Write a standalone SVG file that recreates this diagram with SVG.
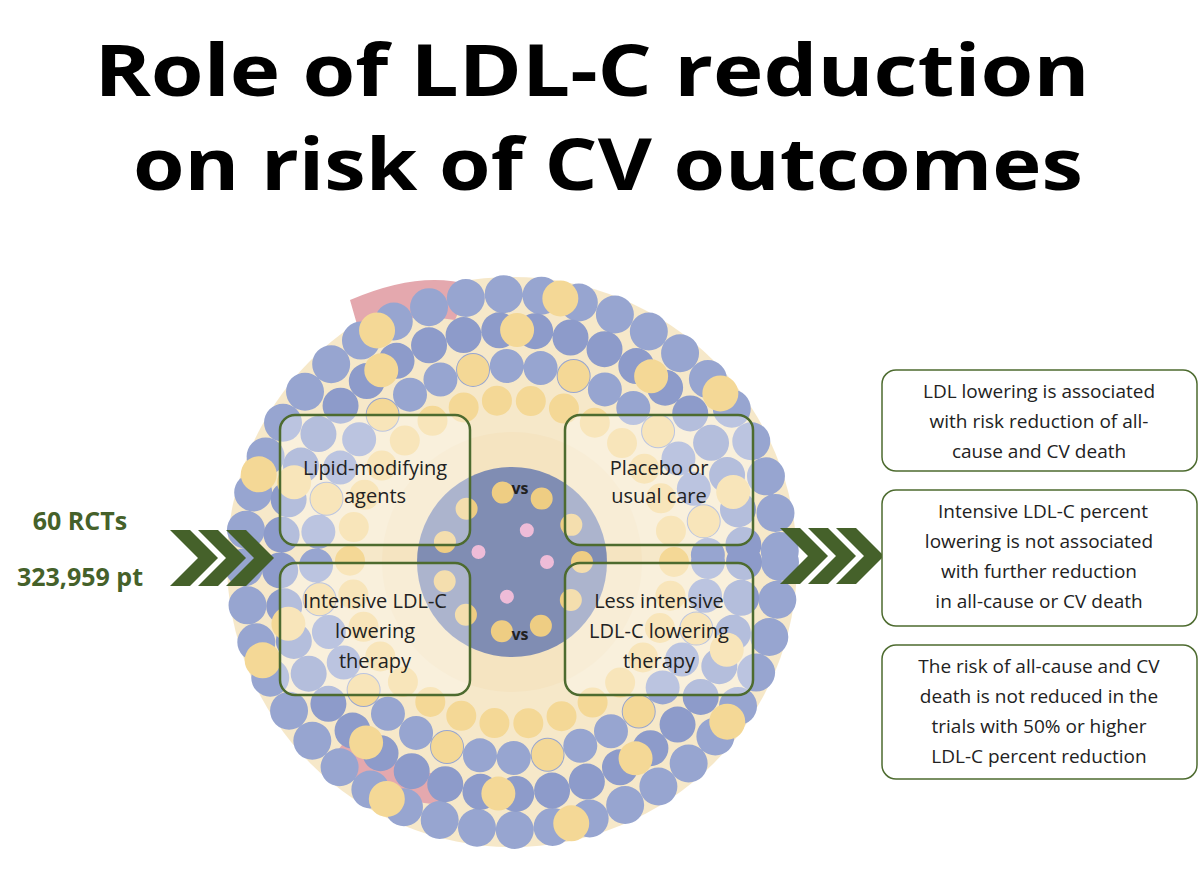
<svg xmlns="http://www.w3.org/2000/svg" width="1200" height="877" viewBox="0 0 1200 877">
<style>
.t{font-family:"Open Sans","Liberation Sans",Arial,sans-serif;font-weight:bold;font-size:72px;fill:#000;text-anchor:middle}
.b{fill:#ffffff;fill-opacity:0.35;stroke:#4d6b2f;stroke-width:2.5}
.r{fill:#fff;stroke:#4d6b2f;stroke-width:1.5}
.l{font-family:"Open Sans","Liberation Sans",sans-serif;font-size:20px;fill:#222;text-anchor:middle}
.s{font-family:"Open Sans","Liberation Sans",sans-serif;font-size:19px;fill:#222;text-anchor:middle}
.g{font-family:"Open Sans","Liberation Sans",Arial,sans-serif;font-weight:bold;font-size:25px;fill:#45612a;text-anchor:middle}
.ch{fill:#45612a}
</style>
<rect width="1200" height="877" fill="#fff"/>
<g id="title">
<text class="t" x="592" y="96" textLength="995" lengthAdjust="spacingAndGlyphs">Role of LDL-C reduction</text>
<text class="t" x="608" y="190" textLength="950" lengthAdjust="spacingAndGlyphs">on risk of CV outcomes</text>
</g>
<g id="particle" opacity="0.7" fill="none" stroke-linecap="round">
<circle cx="512" cy="562" r="285" fill="#f3dfb3" stroke="none"/>
<path d="M350 300 Q420 270 470 285 L455 320 Q400 310 360 335Z" fill="#d9848c" stroke="none"/>
<path d="M330 760 Q380 800 440 805 L440 775 Q390 765 350 735Z" fill="#d9848c" stroke="none"/>
<circle cx="512" cy="562" r="268" stroke="#6c80bd" stroke-width="38" stroke-dasharray="0 38"/>
<circle cx="512" cy="562" r="268" stroke="#f0c86a" stroke-width="36" stroke-dasharray="0 190" stroke-dashoffset="19"/>
<circle cx="512" cy="562" r="232" stroke="#5d72b4" stroke-width="36" stroke-dasharray="0 36"/>
<circle cx="512" cy="562" r="232" stroke="#f0c86a" stroke-width="34" stroke-dasharray="0 144" stroke-dashoffset="54"/>
<circle cx="512" cy="562" r="196" stroke="#6c80bd" stroke-width="34" stroke-dasharray="0 34"/>
<circle cx="512" cy="562" r="196" stroke="#f0c86a" stroke-width="32" stroke-dasharray="0 102" stroke-dashoffset="34"/>
<circle cx="512" cy="562" r="162" stroke="#f0c86a" stroke-width="30" stroke-dasharray="0 34"/>
<circle cx="512" cy="562" r="130" fill="#f1d9a8" stroke="none"/>
<circle cx="512" cy="562" r="95" fill="#4b5e94" stroke="none"/>
<circle cx="512" cy="562" r="70" stroke="#e8b850" stroke-width="22" stroke-dasharray="0 40"/>
<circle cx="512" cy="562" r="35" stroke="#e8a0c8" stroke-width="14" stroke-dasharray="0 60"/>
</g>
<g id="lipid"><rect class="b" x="280" y="415" width="190" height="130" rx="15"/>
<text class="l" x="375" y="475">Lipid-modifying</text><text class="l" x="375" y="503">agents</text></g>
<g id="placebo"><rect class="b" x="565" y="415" width="188" height="130" rx="15"/>
<text class="l" x="659" y="475">Placebo or</text><text class="l" x="659" y="503">usual care</text></g>
<g id="intensive"><rect class="b" x="280" y="563" width="190" height="132" rx="15"/>
<text class="l" x="375" y="608">Intensive LDL-C</text><text class="l" x="375" y="638">lowering</text><text class="l" x="375" y="668">therapy</text></g>
<g id="less"><rect class="b" x="565" y="563" width="188" height="132" rx="15"/>
<text class="l" x="659" y="608">Less intensive</text><text class="l" x="659" y="638">LDL-C lowering</text><text class="l" x="659" y="668">therapy</text></g>
<g id="vs"><text class="l" x="520" y="494" style="font-weight:bold;font-size:16px">vs</text>
<text class="l" x="520" y="640" style="font-weight:bold;font-size:16px">vs</text></g>
<g id="input"><text class="g" x="80" y="530">60 RCTs</text><text class="g" x="80" y="586">323,959 pt</text></g>
<g id="connectors">
<path class="ch" d="M170 530h20l28 28-28 28h-20l28-28z M198 530h20l28 28-28 28h-20l28-28z M226 530h20l28 28-28 28h-20l28-28z"/>
<path class="ch" d="M780 528h20l28 28-28 28h-20l28-28z M808 528h20l28 28-28 28h-20l28-28z M836 528h20l28 28-28 28h-20l28-28z"/>
</g>
<g id="r1"><rect class="r" x="882" y="370" width="315" height="101" rx="14"/>
<text class="s" x="1039" y="398">LDL lowering is associated</text><text class="s" x="1039" y="428">with risk reduction of all-</text><text class="s" x="1039" y="458">cause and CV death</text></g>
<g id="r2"><rect class="r" x="882" y="490" width="315" height="136" rx="14"/>
<text class="s" x="1043" y="518">Intensive LDL-C percent</text><text class="s" x="1039" y="548">lowering is not associated</text><text class="s" x="1039" y="578">with further reduction</text><text class="s" x="1039" y="608">in all-cause or CV death</text></g>
<g id="r3"><rect class="r" x="882" y="645" width="315" height="134" rx="14"/>
<text class="s" x="1039" y="673">The risk of all-cause and CV</text><text class="s" x="1039" y="703">death is not reduced in the</text><text class="s" x="1039" y="733">trials with 50% or higher</text><text class="s" x="1039" y="763">LDL-C percent reduction</text></g>
</svg>
